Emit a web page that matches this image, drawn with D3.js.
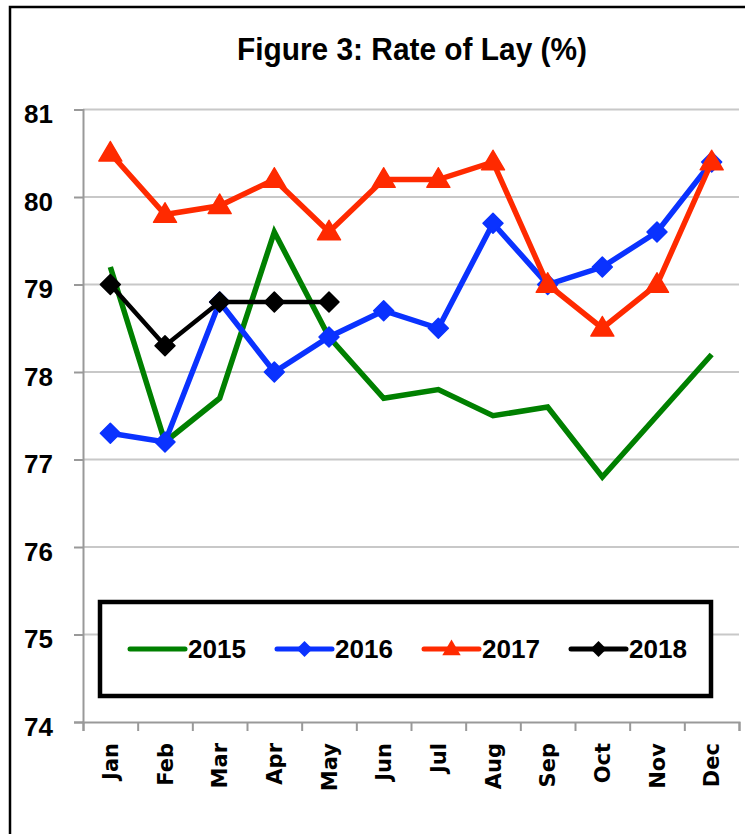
<!DOCTYPE html>
<html><head><meta charset="utf-8">
<script src="https://cdn.jsdelivr.net/npm/d3@7"></script>
<style>html,body{margin:0;padding:0;background:#fff;}svg{display:block;}</style>
</head><body>
<svg id="c" width="745" height="834"></svg>
<script>
const months = ["Jan","Feb","Mar","Apr","May","Jun","Jul","Aug","Sep","Oct","Nov","Dec"];
const years = ["2015","2016","2017","2018"];
const v2015 = [79.2,77.2,77.7,79.6,78.4,77.7,77.8,77.5,77.6,76.8,77.5,78.2];
const v2016 = [77.3,77.2,78.8,78.0,78.4,78.7,78.5,79.7,79.0,79.2,79.6,80.4];
const v2017 = [80.5,79.8,79.9,80.2,79.6,80.2,80.2,80.4,79.0,78.5,79.0,80.4];
const v2018 = [79.0,78.3,78.8,78.8,78.8];
const yTicks = [74,75,76,77,78,79,80,81];
const title = "Figure 3: Rate of Lay (%)";

const colors = {"2015":"#008000","2016":"#0a32ff","2017":"#ff2a00","2018":"#000000"};
const markers = {"2015":null,"2016":"diamond","2017":"triangle","2018":"diamond"};
const seriesVals = {"2015":v2015,"2016":v2016,"2017":v2017,"2018":v2018};

const svg = d3.select("#c");
const L = 83, R = 739, T = 109.5, B = 722;

// frame
svg.append("rect").attr("x",10).attr("y",7).attr("width",760).attr("height",860)
  .attr("fill","none").attr("stroke","#000").attr("stroke-width",2.5);

// title
svg.append("text").attr("x",412).attr("y",60).attr("text-anchor","middle")
  .attr("font-family","Liberation Sans, Arial, sans-serif").attr("font-weight","bold")
  .attr("font-size",31).attr("textLength",350).attr("lengthAdjust","spacingAndGlyphs")
  .text(title);

const y = d3.scaleLinear().domain([74,81]).range([B,T]);
const xb = d3.scaleBand().domain(months).range([L,R]).padding(0);
const xl = d3.scaleLinear().domain([0,12]).range([L,R]);
const cx = m => xb(m) + xb.bandwidth()/2;

// gridlines
svg.append("g").selectAll("line").data(yTicks.filter(d=>d>74)).join("line")
  .attr("x1",L).attr("x2",R).attr("y1",d=>y(d)).attr("y2",d=>y(d))
  .attr("stroke","#c8c8c8").attr("stroke-width",2);

// y axis
const ya = svg.append("g").attr("transform",`translate(${L},0)`)
  .call(d3.axisLeft(y).tickValues(yTicks).tickSize(9).tickPadding(21).tickFormat(d3.format("d")));
ya.select(".domain").attr("stroke","#999").attr("stroke-width",2);
ya.selectAll(".tick line").attr("stroke","#999").attr("stroke-width",2);
ya.selectAll(".tick text").attr("font-family","Liberation Sans, Arial, sans-serif")
  .attr("font-weight","bold").attr("font-size",26).attr("fill","#000").attr("dy","0.5em");

// x axis ticks at boundaries
const xa = svg.append("g").attr("transform",`translate(0,${B})`)
  .call(d3.axisBottom(xl).tickValues(d3.range(13)).tickSize(9).tickFormat(""));
xa.select(".domain").attr("stroke","#999").attr("stroke-width",2);
xa.selectAll(".tick line").attr("stroke","#999").attr("stroke-width",2);

// x labels
const xlab = svg.append("g").attr("transform",`translate(0,${B})`)
  .call(d3.axisBottom(xb).tickSize(0).tickPadding(0));
xlab.select(".domain").remove();
xlab.selectAll(".tick text")
  .attr("font-family","DejaVu Sans, Verdana, sans-serif").attr("font-weight","bold")
  .attr("font-size",21).attr("fill","#000")
  .attr("text-anchor","end").attr("transform","translate(0,21) rotate(-90)")
  .attr("x",0).attr("y",0).attr("dy","0.36em");

// symbols
const diamondType = {draw(ctx,size){const r=Math.sqrt(size)/2;ctx.moveTo(0,-r);ctx.lineTo(r,0);ctx.lineTo(0,r);ctx.lineTo(-r,0);ctx.closePath();}};
const triType = {draw(ctx,size){const w=Math.sqrt(size);const h=w*0.85;ctx.moveTo(0,-h*0.6);ctx.lineTo(w/2,h*0.4);ctx.lineTo(-w/2,h*0.4);ctx.closePath();}};
function symPath(kind, scale){
  if(kind==="diamond") return d3.symbol().type(diamondType).size(400*scale*scale)();
  return d3.symbol().type(triType).size(529*scale*scale)();
}

const line = d3.line().x(d=>cx(d.m)).y(d=>y(d.v));
years.forEach(yr=>{
  const data = seriesVals[yr].map((v,i)=>({m:months[i],v}));
  const g = svg.append("g");
  g.append("path").datum(data).attr("d",line).attr("fill","none")
    .attr("stroke",colors[yr]).attr("stroke-width",yr==="2018"?4.5:5.5)
    .attr("stroke-linejoin","miter");
  if(markers[yr]){
    g.selectAll("path.mk").data(data).join("path").attr("class","mk")
      .attr("d",symPath(markers[yr],1))
      .attr("transform",d=>`translate(${cx(d.m)},${y(d.v)})`)
      .attr("fill",colors[yr]).attr("stroke",colors[yr]).attr("stroke-width",1.5)
      .attr("stroke-linejoin","round");
  }
});

// legend
const lg = svg.append("g");
lg.append("rect").attr("x",100).attr("y",602).attr("width",611).attr("height",94)
  .attr("fill","#fff").attr("stroke","#000").attr("stroke-width",4.5);
const lx = d3.scalePoint().domain(years).range([130,571]);
const ly = 649;
years.forEach(yr=>{
  const x0 = lx(yr);
  lg.append("line").attr("x1",x0).attr("x2",x0+55).attr("y1",ly).attr("y2",ly)
    .attr("stroke",colors[yr]).attr("stroke-width",5).attr("stroke-linecap","round");
  if(markers[yr]){
    lg.append("path").attr("d",symPath(markers[yr],0.8))
      .attr("transform",`translate(${x0+27.5},${ly})`).attr("fill",colors[yr]);
  }
  lg.append("text").attr("x",x0+58).attr("y",ly+9)
    .attr("font-family","Liberation Sans, Arial, sans-serif").attr("font-weight","bold")
    .attr("font-size",25).attr("textLength",58).attr("lengthAdjust","spacingAndGlyphs").text(yr);
});
</script>
</body></html>
